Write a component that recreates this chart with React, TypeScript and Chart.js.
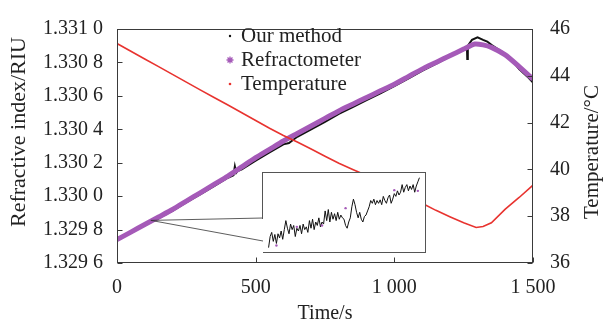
import React, { useEffect, useRef } from 'react';
import { Chart, registerables } from 'chart.js';

Chart.register(...registerables);

// ---------------- data ----------------
const refTime = [0, 50, 100, 150, 200, 250, 300, 350, 400, 450, 500, 550, 600, 650, 700, 750, 800, 850, 900, 950, 1000, 1050, 1100, 1150, 1200, 1250, 1290, 1320, 1350, 1400, 1450, 1500];
const refractometerRI = [1.32974, 1.329785, 1.32983, 1.329875, 1.32992, 1.32997, 1.33002, 1.33007, 1.33012, 1.330175, 1.33023, 1.33028, 1.33033, 1.330375, 1.33042, 1.330465, 1.33051, 1.33055, 1.33059, 1.33063, 1.33067, 1.330715, 1.33076, 1.3308, 1.33084, 1.33088, 1.33091, 1.330905, 1.33089, 1.330845, 1.330775, 1.3307];

const ourTime = [0, 50, 100, 150, 200, 250, 300, 350, 400, 420, 425, 430, 435, 450, 500, 550, 600, 620, 650, 700, 750, 800, 850, 900, 950, 1000, 1050, 1100, 1150, 1200, 1250, 1262, 1263, 1265, 1280, 1300, 1320, 1335, 1350, 1400, 1430, 1450, 1480, 1500];
const ourRI = [1.329735, 1.32978, 1.329825, 1.329868, 1.329912, 1.329962, 1.33001, 1.33006, 1.33011, 1.330125, 1.330178, 1.33014, 1.33015, 1.33016, 1.330212, 1.330262, 1.33031, 1.330318, 1.330355, 1.3304, 1.330445, 1.330492, 1.330533, 1.330575, 1.330615, 1.330658, 1.330703, 1.33075, 1.330792, 1.330835, 1.330875, 1.33088, 1.33082, 1.3309, 1.330935, 1.33095, 1.330935, 1.330925, 1.330905, 1.33085, 1.3308, 1.33076, 1.330715, 1.33068];

const tempTime = [0, 50, 100, 150, 200, 250, 300, 350, 400, 450, 500, 550, 600, 650, 700, 750, 800, 850, 900, 950, 1000, 1050, 1100, 1150, 1200, 1250, 1295, 1320, 1350, 1400, 1450, 1500];
const temperatureC = [45.38, 45.05, 44.72, 44.39, 44.06, 43.73, 43.4, 43.07, 42.75, 42.42, 42.09, 41.76, 41.45, 41.17, 40.87, 40.56, 40.26, 40.0, 39.74, 39.45, 39.16, 38.88, 38.55, 38.25, 37.98, 37.72, 37.52, 37.56, 37.72, 38.3, 38.8, 39.33];

const timeTicks = [0, 500, 1000, 1500];
const riTicks = [1.3296, 1.3298, 1.33, 1.3302, 1.3304, 1.3306, 1.3308, 1.331];
const tempTicks = [36, 38, 40, 42, 44, 46];

// inset (zoomed detail near t = 120 s): readings in micro-RIU above 1.329 8
const insetDelta = [1, 17, 23, 10, 20, 7, 21, 15, 25, 13, 27, 40, 29, 21, 35, 27, 33, 17, 29, 25, 33, 21, 35, 27, 31, 23, 40, 29, 42, 27, 38, 33, 44, 31, 38, 35, 54, 40, 56, 38, 52, 42, 50, 40, 52, 42, 48, 44, 42, 33, 29, 38, 44, 60, 71, 63, 52, 44, 52, 42, 38, 46, 48, 54, 60, 69, 65, 71, 63, 69, 65, 70, 63, 75, 69, 65, 73, 77, 65, 71, 79, 75, 83, 77, 81, 92, 81, 88, 92, 83, 90, 85, 92, 81, 90, 96, 102];
const insetDotIndex = [5, 18, 34, 49, 80, 95];
const insetDotDelta = [4, 31, 33, 58, 84, 83];
const zoomTime = 122;
const zoomRI = 1.329855;

const legendLabels = ['Our method', 'Refractometer', 'Temperature'];
const leftTitle = 'Refractive index/RIU';
const rightTitle = 'Temperature/\u00B0C';

const BLACK = '#111111';
const PURPLE = '#a55ab8';
const RED = '#e8332f';
const FONT = '"Liberation Serif", "Times New Roman", serif';

function fmtRI(v: number) {
  const s = v.toFixed(4);
  return s.slice(0, 5) + ' ' + s.slice(5);
}
function fmtTime(v: number) {
  if (v >= 1000) {
    const s = String(v);
    return s.slice(0, s.length - 3) + ' ' + s.slice(s.length - 3);
  }
  return String(v);
}

const decorPlugin = {
  id: 'decor',
  afterDraw(chart: any) {
    const { ctx, chartArea: a, scales } = chart;
    ctx.save();
    ctx.strokeStyle = '#3a3a3a';
    ctx.lineWidth = 1;
    const L = Math.round(a.left) + 0.5;
    const R = Math.round(a.right) - 0.5;
    const T = Math.round(a.top) + 0.5;
    const B = Math.round(a.bottom) - 0.5;
    ctx.strokeRect(L, T, R - L, B - T);
    ctx.beginPath();
    timeTicks.forEach((t) => {
      const x = Math.round(scales.x.getPixelForValue(t)) + 0.5;
      ctx.moveTo(x, B);
      ctx.lineTo(x, B - 5);
    });
    riTicks.forEach((v) => {
      const y = Math.round(scales.y.getPixelForValue(v)) + 0.5;
      ctx.moveTo(L, y);
      ctx.lineTo(L + 5, y);
    });
    tempTicks.forEach((v) => {
      const y = Math.round(scales.y1.getPixelForValue(v)) + 0.5;
      ctx.moveTo(R, y);
      ctx.lineTo(R - 5, y);
    });
    ctx.stroke();

    // connectors to inset
    const px = scales.x.getPixelForValue(zoomTime);
    const py = scales.y.getPixelForValue(zoomRI);
    ctx.strokeStyle = '#333';
    ctx.lineWidth = 0.8;
    ctx.beginPath();
    ctx.moveTo(px, py);
    ctx.lineTo(263, 218);
    ctx.moveTo(px, py);
    ctx.lineTo(263, 241);
    ctx.stroke();

    // axis titles (both read bottom-to-top)
    ctx.fillStyle = '#222';
    ctx.textAlign = 'center';
    ctx.textBaseline = 'middle';
    ctx.save();
    ctx.translate(19, 132);
    ctx.rotate(-Math.PI / 2);
    ctx.font = '22px ' + FONT;
    ctx.fillText(leftTitle, 0, 0);
    ctx.restore();
    ctx.save();
    ctx.translate(592, 152);
    ctx.rotate(-Math.PI / 2);
    ctx.font = '21px ' + FONT;
    ctx.fillText(rightTitle, 0, 0);
    ctx.restore();

    // legend
    ctx.font = '21px ' + FONT;
    ctx.textBaseline = 'middle';
    ctx.textAlign = 'left';
    const rows = [36, 60, 84];
    legendLabels.forEach((lab, i) => {
      const y = rows[i];
      const mx = 230;
      if (i === 0) {
        ctx.fillStyle = BLACK;
        ctx.beginPath();
        ctx.arc(mx, y, 1.2, 0, Math.PI * 2);
        ctx.fill();
      } else if (i === 1) {
        ctx.strokeStyle = PURPLE;
        ctx.lineWidth = 1.3;
        ctx.beginPath();
        for (let k = 0; k < 4; k++) {
          const ang = (k * Math.PI) / 4;
          ctx.moveTo(mx - 3.5 * Math.cos(ang), y - 3.5 * Math.sin(ang));
          ctx.lineTo(mx + 3.5 * Math.cos(ang), y + 3.5 * Math.sin(ang));
        }
        ctx.stroke();
      } else {
        ctx.fillStyle = RED;
        ctx.beginPath();
        ctx.arc(mx, y, 1.3, 0, Math.PI * 2);
        ctx.fill();
      }
      ctx.fillStyle = '#222';
      ctx.fillText(lab, 241, y);
    });
    ctx.restore();
  },
};

function MainChart() {
  const ref = useRef<HTMLCanvasElement | null>(null);
  useEffect(() => {
    if (!ref.current) return;
    const chart = new Chart(ref.current, {
      type: 'line',
      data: {
        datasets: [
          {
            label: 'Temperature',
            data: tempTime.map((t, i) => ({ x: t, y: temperatureC[i] })),
            yAxisID: 'y1',
            borderColor: RED,
            borderWidth: 1.6,
            pointRadius: 0,
            tension: 0,
          },
          {
            label: 'Refractometer',
            data: refTime.map((t, i) => ({ x: t, y: refractometerRI[i] })),
            yAxisID: 'y',
            borderColor: PURPLE,
            borderWidth: 5,
            pointRadius: 0,
            tension: 0.2,
          },
          {
            label: 'Our method',
            data: ourTime.map((t, i) => ({ x: t, y: ourRI[i] })),
            yAxisID: 'y',
            borderColor: BLACK,
            borderWidth: 2,
            pointRadius: 0,
            tension: 0,
          },
        ],
      },
      options: {
        animation: false,
        responsive: true,
        maintainAspectRatio: false,
        layout: { padding: { top: 20, left: 0, right: 0, bottom: 0 } },
        plugins: { legend: { display: false }, tooltip: { enabled: false } },
        scales: {
          x: {
            type: 'linear',
            min: 0,
            max: 1500,
            grid: { display: false, drawTicks: false },
            border: { display: false },
            afterBuildTicks: (s: any) => {
              s.ticks = timeTicks.map((v) => ({ value: v }));
            },
            afterFit: (s: any) => {
              s.height = 63;
            },
            ticks: {
              padding: 13,
              maxRotation: 0,
              autoSkip: false,
              color: '#222',
              font: { family: FONT, size: 20 },
              callback: (v: any) => fmtTime(Number(v)),
            },
            title: {
              display: true,
              text: 'Time/s',
              color: '#222',
              font: { family: FONT, size: 20 },
              padding: { top: 0, bottom: 0 },
            },
          },
          y: {
            type: 'linear',
            position: 'left',
            min: 1.3296,
            max: 1.331,
            grid: { display: false, drawTicks: false },
            border: { display: false },
            afterBuildTicks: (s: any) => {
              s.ticks = riTicks.map((v) => ({ value: v }));
            },
            afterFit: (s: any) => {
              s.width = 117;
            },
            ticks: {
              padding: 14,
              autoSkip: false,
              color: '#222',
              font: { family: FONT, size: 20 },
              callback: (v: any) => fmtRI(Number(v)),
            },
          },
          y1: {
            type: 'linear',
            position: 'right',
            min: 36,
            max: 46,
            grid: { display: false, drawTicks: false },
            border: { display: false },
            afterBuildTicks: (s: any) => {
              s.ticks = tempTicks.map((v) => ({ value: v }));
            },
            afterFit: (s: any) => {
              s.width = 70;
            },
            ticks: {
              padding: 17,
              autoSkip: false,
              color: '#222',
              font: { family: FONT, size: 20 },
            },
          },
        },
      },
      plugins: [decorPlugin],
    } as any);
    return () => chart.destroy();
  }, []);
  return <canvas ref={ref} />;
}

function InsetChart() {
  const ref = useRef<HTMLCanvasElement | null>(null);
  useEffect(() => {
    if (!ref.current) return;
    const chart = new Chart(ref.current, {
      type: 'line',
      data: {
        datasets: [
          {
            type: 'scatter',
            data: insetDotIndex.map((i, k) => ({ x: i, y: insetDotDelta[k] })),
            backgroundColor: PURPLE,
            borderColor: PURPLE,
            pointRadius: 1.2,
            borderWidth: 0,
          },
          {
            data: insetDelta.map((v, i) => ({ x: i, y: v })),
            borderColor: BLACK,
            borderWidth: 1,
            pointRadius: 0,
            tension: 0,
          },
        ],
      },
      options: {
        animation: false,
        responsive: true,
        maintainAspectRatio: false,
        layout: { padding: 0 },
        plugins: { legend: { display: false }, tooltip: { enabled: false } },
        scales: {
          x: { type: 'linear', display: false, min: -1, max: 97 },
          y: { type: 'linear', display: false, min: -1, max: 103 },
        },
      },
    } as any);
    return () => chart.destroy();
  }, []);
  return <canvas ref={ref} />;
}

export default function App() {
  return (
    <div style={{ position: 'absolute', left: 0, top: 0, width: 603, height: 326, background: '#fff' }}>
      <div style={{ position: 'absolute', left: 0, top: 0, width: 603, height: 326 }}>
        <MainChart />
      </div>
      <div
        style={{
          position: 'absolute',
          left: 263,
          top: 172,
          width: 163,
          height: 81,
          background: '#fff',
          boxSizing: 'border-box',
          borderTop: '1px solid #555',
          borderRight: '1px solid #555',
          borderBottom: '1px solid #555',
        }}
      >
        <div style={{ position: 'absolute', left: -1, top: -1, width: 1, height: 47, background: '#555' }} />
        <div style={{ position: 'absolute', left: 0, top: 0, width: 162, height: 80 }}>
          <InsetChart />
        </div>
      </div>
    </div>
  );
}
